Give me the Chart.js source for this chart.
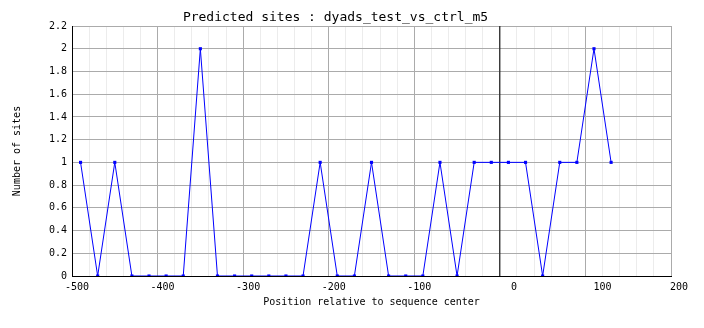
<!DOCTYPE html>
<html><head><meta charset="utf-8">
<script src="https://cdn.jsdelivr.net/npm/chart.js@4"></script>
<style>html,body{margin:0;padding:0;background:#fff}</style>
</head><body>
<canvas id="c" width="704" height="328"></canvas>
<script>
// ---- data ----
const positions = [-490,-470,-450,-430,-410,-390,-370,-350,-330,-310,-290,-270,-250,-230,-210,-190,-170,-150,-130,-110,-90,-70,-50,-30,-10,10,30,50,70,90,110,130];
const sites     = [1,0,1,0,0,0,0,2,0,0,0,0,0,0,1,0,0,1,0,0,0,1,0,1,1,1,1,0,1,1,2,1];
const centerLineX = [0, 0];
const centerLineY = [0, 2.2];
const xTickValues = [-500,-400,-300,-200,-100,0,100,200];
const xTickLabels = ['-500','-400','-300','-200','-100','0','100','200'];
const yTickLabels = ['0','0.2','0.4','0.6','0.8','1','1.2','1.4','1.6','1.8','2','2.2'];
const chartTitle = 'Predicted sites : dyads_test_vs_ctrl_m5';
const xTitle = 'Position relative to sequence center';
const yTitle = 'Number of sites';

// style: the original places some x labels slightly right of their grid line
const xLabelNudge = [0,0,0,0,0,3,4,1]; // in half-character steps (leading spaces)

const FONT = 'DejaVu Sans Mono';
const MAJOR = '#ababab', MINOR = '#ececec';

new Chart(document.getElementById('c'), {
  type: 'line',
  data: {
    datasets: [
      {
        data: positions.map((x, i) => ({x, y: sites[i]})),
        borderColor: '#0000ff', backgroundColor: '#0000ff',
        borderWidth: 1, tension: 0,
        pointStyle: 'rect', pointRadius: 2.2, pointBorderWidth: 0
      },
      {
        data: centerLineX.map((x, i) => ({x, y: centerLineY[i]})),
        borderColor: '#000000', borderWidth: 1, pointRadius: 0, tension: 0
      }
    ]
  },
  options: {
    responsive: false, animation: false, devicePixelRatio: 1,
    layout: {padding: {left: 0, right: 33, top: 0, bottom: 0}},
    plugins: {
      legend: {display: false}, tooltip: {enabled: false},
      title: {display: true, text: chartTitle, color: '#000',
        font: {family: FONT, size: 13, weight: 'normal', lineHeight: 1.2},
        padding: {top: 10, bottom: 0.4}}
    },
    scales: {
      x: {
        type: 'linear', min: -500, max: 200,
        afterFit: s => { s.height = 52; },
        border: {color: '#000', width: 1},
        grid: {drawTicks: false,
          color: c => (Math.abs(Math.round(c.tick.value)) % 100 === 0) ? MAJOR : MINOR},
        ticks: {stepSize: 20, autoSkip: false, maxRotation: 0, padding: 5, labelOffset: 5,
          color: '#000', font: {family: FONT, size: 10},
          callback: v => { const i = xTickValues.indexOf(Math.round(v)); return i >= 0 ? ' '.repeat(xLabelNudge[i]) + xTickLabels[i] : ''; }},
        title: {display: true, text: xTitle, color: '#000',
          font: {family: FONT, size: 10, lineHeight: 1.2}, padding: {top: 0, bottom: 20}}
      },
      y: {
        min: 0, max: 2.2,
        afterFit: s => { s.width = 72; },
        border: {color: '#000', width: 1},
        grid: {drawTicks: false, color: MAJOR},
        ticks: {stepSize: 0.2, padding: 5, color: '#000', font: {family: FONT, size: 10},
          callback: (v, i) => yTickLabels[Math.round(v * 5)] ?? ''},
        title: {display: true, text: yTitle, color: '#000',
          font: {family: FONT, size: 10, lineHeight: 1.2}, padding: {top: 11, bottom: 0}}
      }
    }
  }
});
</script>
</body></html>
